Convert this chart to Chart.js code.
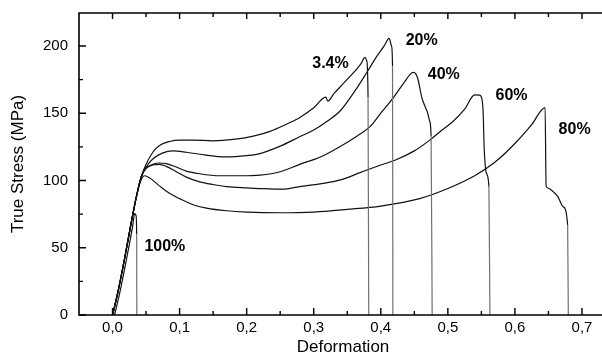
<!DOCTYPE html>
<html><head><meta charset="utf-8">
<script src="https://cdn.jsdelivr.net/npm/chart.js@4"></script>
<style>html,body{margin:0;padding:0;background:#fff;overflow:hidden;width:602px;height:358px}
#wrap{width:612px;height:358px;position:relative}</style>
</head><body><div id="wrap"><canvas id="c" width="612" height="358"></canvas></div>
<script>
// ---- data ----
const xTicks = [0, 0.1, 0.2, 0.3, 0.4, 0.5, 0.6, 0.7];
const xMinorTicks = [0.05, 0.15, 0.25, 0.35, 0.45, 0.55, 0.65];
const yTicks = [0, 50, 100, 150, 200];
const yMinorTicks = [25, 75, 125, 175];

const strain34 = [0, 0.008, 0.018, 0.028, 0.036, 0.043, 0.05, 0.06, 0.07, 0.085, 0.1, 0.12, 0.15, 0.18, 0.21, 0.235, 0.26, 0.28, 0.3, 0.318, 0.321, 0.33, 0.345, 0.36, 0.37, 0.3765, 0.379, 0.381, 0.382];
const stress34 = [0, 17, 42, 69, 89, 103, 112, 121, 126, 129, 130, 130, 129.5, 130.5, 133, 136.5, 142, 147, 154, 162, 159, 164.5, 172.5, 180.5, 186.5, 191.5, 189, 162, 0];

const strain20 = [0, 0.008, 0.018, 0.028, 0.036, 0.043, 0.05, 0.06, 0.075, 0.09, 0.11, 0.13, 0.17, 0.2, 0.22, 0.25, 0.279, 0.3, 0.32, 0.34, 0.366, 0.38, 0.395, 0.405, 0.4124, 0.416, 0.4175, 0.418];
const stress20 = [0, 17, 42, 69, 89, 103, 110, 116, 120.5, 122, 121, 119.5, 117.5, 118.5, 120, 125.5, 132.5, 137.5, 144, 152, 170, 181, 193, 200, 205.7, 200, 185, 0];

const strain40 = [0, 0.008, 0.018, 0.028, 0.036, 0.043, 0.05, 0.06, 0.07, 0.08, 0.095, 0.11, 0.13, 0.16, 0.19, 0.22, 0.25, 0.279, 0.31, 0.335, 0.366, 0.384, 0.4, 0.418, 0.435, 0.446, 0.449, 0.455, 0.461, 0.466, 0.47, 0.473, 0.475, 0.4766];
const stress40 = [0, 17, 42, 69, 89, 103, 109, 112, 113, 112.5, 110, 107, 105, 103.5, 103.5, 104, 106.5, 112, 117.5, 124, 133.5, 140, 150, 161, 173, 180, 180.4, 176, 162, 155, 150, 144, 133, 0];

const strain60 = [0, 0.008, 0.018, 0.028, 0.036, 0.043, 0.05, 0.06, 0.07, 0.08, 0.095, 0.11, 0.13, 0.15, 0.17, 0.2, 0.22, 0.254, 0.279, 0.31, 0.34, 0.37, 0.4, 0.421, 0.45, 0.473, 0.49, 0.508, 0.525, 0.54, 0.547, 0.5497, 0.5527, 0.554, 0.5577, 0.5612, 0.5627];
const stress60 = [0, 17, 42, 69, 89, 103, 109, 111.5, 112, 110.5, 106.5, 102.5, 99, 97, 95.5, 94.5, 94, 93.5, 95.5, 97.5, 100.4, 106, 111.5, 115, 122, 130, 137, 144, 153, 163.6, 163.5, 162.3, 150, 126, 105, 95.4, 0];

const strain80 = [0, 0.008, 0.018, 0.028, 0.036, 0.043, 0.048, 0.055, 0.07, 0.085, 0.1, 0.12, 0.14, 0.17, 0.2, 0.25, 0.3, 0.35, 0.4, 0.458, 0.5, 0.54, 0.57, 0.6, 0.625, 0.645, 0.6465, 0.65, 0.657, 0.664, 0.672, 0.6786, 0.6796];
const stress80 = [0, 17, 42, 69, 89, 101, 103.5, 102, 96, 90.5, 86.5, 82, 79.5, 77.5, 76.5, 76, 76.5, 78.5, 81, 86.5, 94, 103.5, 113.5, 127.5, 141.5, 154.2, 96, 94.2, 91.7, 88, 80.5, 67, 0];

const strain100 = [0.003, 0.011, 0.021, 0.03, 0.033, 0.035, 0.036, 0.0362];
const stress100 = [0, 17, 42, 66, 75.6, 74, 60, 0];

const labelText = ['100%', '3.4%', '20%', '40%', '60%', '80%'];
const labelX = [0.078, 0.325, 0.461, 0.494, 0.595, 0.689];
const labelY = [50.6, 186.6, 203.9, 179, 163, 138];

// ---- chart ----
const series = [[strain34, stress34], [strain20, stress20], [strain40, stress40], [strain60, stress60], [strain80, stress80], [strain100, stress100]];
const datasets = series.map(([xs, ys]) => ({
  data: xs.map((v, i) => ({x: v, y: ys[i]})),
  showLine: true, pointRadius: 0, borderWidth: 1.2, borderColor: '#111',
  cubicInterpolationMode: 'monotone',
  segment: { borderColor: c => (c.p1.parsed.y === 0 && c.p0.parsed.y > 0) ? '#707070' : '#111' }
}));

const FONT = 'Liberation Sans, Arial, sans-serif';

const framePlugin = {
  id: 'frame',
  afterDraw(chart) {
    const {ctx, chartArea: a, scales: {x, y}} = chart;
    ctx.save();
    ctx.strokeStyle = '#000';
    ctx.lineWidth = 1.6;
    ctx.beginPath();
    ctx.moveTo(a.right + 10, a.top); ctx.lineTo(a.left, a.top); ctx.lineTo(a.left, a.bottom); ctx.lineTo(a.right + 10, a.bottom);
    ctx.stroke();
    ctx.lineWidth = 1.4;
    ctx.beginPath();
    xTicks.forEach(v => { const p = x.getPixelForValue(v); ctx.moveTo(p, a.bottom); ctx.lineTo(p, a.bottom - 7); ctx.moveTo(p, a.top); ctx.lineTo(p, a.top + 6); });
    xMinorTicks.forEach(v => { const p = x.getPixelForValue(v); ctx.moveTo(p, a.bottom); ctx.lineTo(p, a.bottom - 4); ctx.moveTo(p, a.top); ctx.lineTo(p, a.top + 4); });
    yTicks.forEach(v => { const p = y.getPixelForValue(v); ctx.moveTo(a.left, p); ctx.lineTo(a.left + 7, p); });
    yMinorTicks.forEach(v => { const p = y.getPixelForValue(v); ctx.moveTo(a.left, p); ctx.lineTo(a.left + 4, p); });
    ctx.stroke();
    ctx.fillStyle = '#000';
    ctx.font = 'bold 16px ' + FONT;
    ctx.textAlign = 'center';
    ctx.textBaseline = 'middle';
    labelText.forEach((t, i) => ctx.fillText(t, x.getPixelForValue(labelX[i]), y.getPixelForValue(labelY[i])));
    ctx.restore();
  }
};

new Chart(document.getElementById('c'), {
  type: 'scatter',
  data: { datasets },
  plugins: [framePlugin],
  options: {
    responsive: false, animation: false,
    layout: { padding: { top: 13, right: 5, left: 0, bottom: 0 } },
    plugins: { legend: { display: false }, tooltip: { enabled: false } },
    scales: {
      x: {
        type: 'linear', min: -0.05, max: 0.7373,
        afterBuildTicks: s => { s.ticks = xTicks.map(v => ({value: v})); },
        afterFit: s => { s.height = 43; s.paddingLeft = 0; s.paddingRight = 0; s.paddingTop = 0; s.paddingBottom = 0; },
        grid: { display: false, drawTicks: false }, border: { display: false },
        ticks: { autoSkip: false, maxRotation: 0, padding: 4, color: '#000', font: { size: 15, family: FONT },
                 callback: v => v.toFixed(1).replace('.', ',') },
        title: { display: true, text: 'Deformation', color: '#000', font: { size: 17, family: FONT }, padding: { top: 0, bottom: 0 } }
      },
      y: {
        type: 'linear', min: 0, max: 224.5,
        afterBuildTicks: s => { s.ticks = yTicks.map(v => ({value: v})); },
        afterFit: s => { s.width = 79; s.paddingLeft = 0; s.paddingRight = 0; s.paddingTop = 0; s.paddingBottom = 0; },
        grid: { display: false, drawTicks: false }, border: { display: false },
        ticks: { padding: 11, color: '#000', font: { size: 15, family: FONT } },
        title: { display: true, text: 'True Stress (MPa)', color: '#000', font: { size: 17, family: FONT }, padding: { top: 8, bottom: 0 } }
      }
    }
  }
});
</script></body></html>
